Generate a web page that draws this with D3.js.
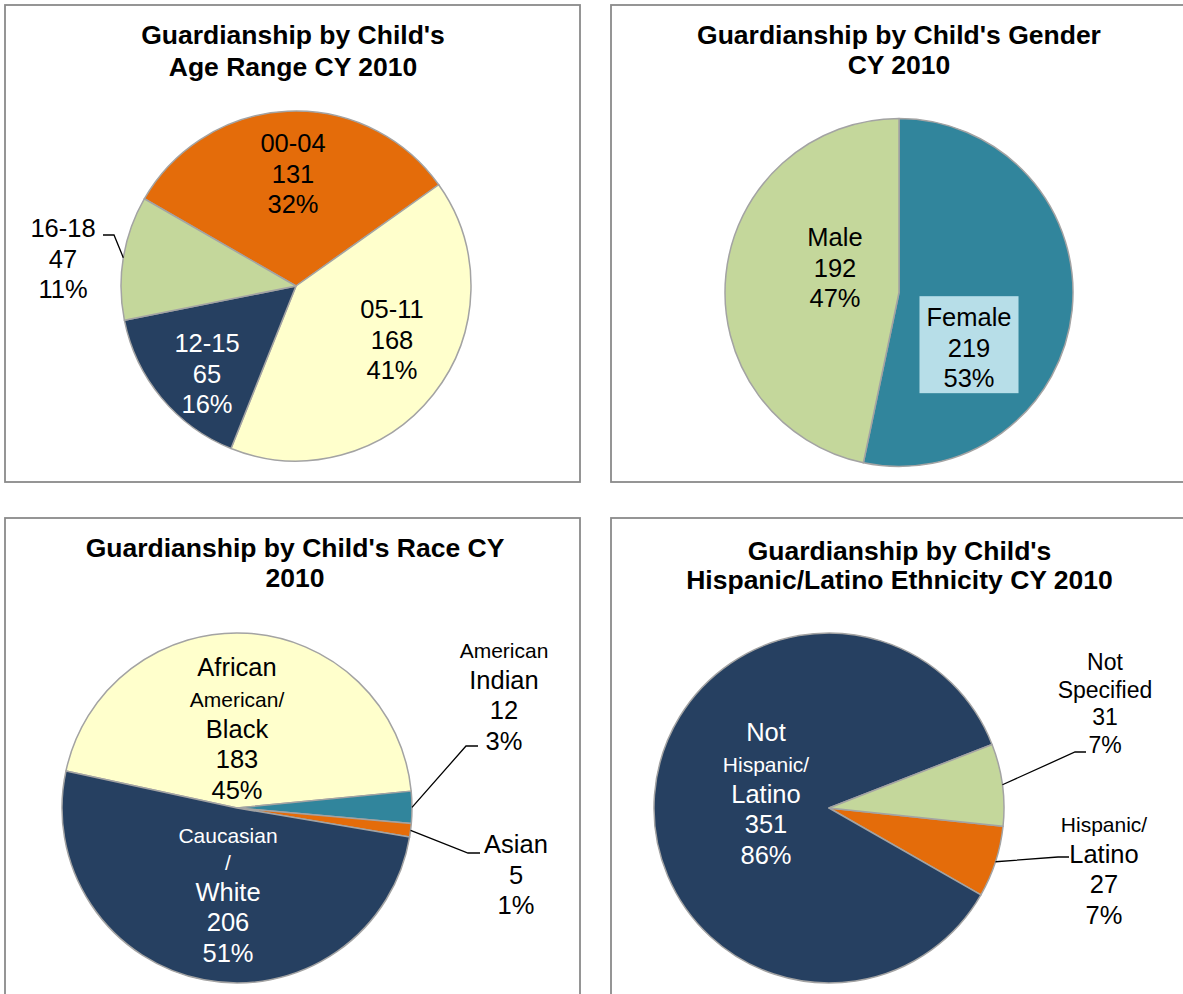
<!DOCTYPE html>
<html>
<head>
<meta charset="utf-8">
<script src="https://cdn.jsdelivr.net/npm/d3@7"></script>
<style>
  html, body { margin: 0; padding: 0; background: #ffffff; }
  svg { display: block; font-family: "Liberation Sans", Arial, Helvetica, sans-serif; }
</style>
</head>
<body>
<svg id="chart" width="1183" height="994"></svg>
<script>
// ---- Data: guardianship counts, CY 2010 ----
const ageCategories = ["00-04", "05-11", "12-15", "16-18"];
const ageCounts = [131, 168, 65, 47];
const agePercents = ["32%", "41%", "16%", "11%"];

const genderCategories = ["Female", "Male"];
const genderCounts = [219, 192];
const genderPercents = ["53%", "47%"];

const raceCategories = ["African American/Black", "American Indian", "Asian", "Caucasian/White"];
const raceCounts = [183, 12, 5, 206];
const racePercents = ["45%", "3%", "1%", "51%"];

const ethnicityCategories = ["Hispanic/Latino", "Not Hispanic/Latino", "Not Specified"];
const ethnicityCounts = [27, 351, 31];
const ethnicityPercents = ["7%", "86%", "7%"];

// ---- Styling ----
const COLOR = {
  orange: "#E46C0A",
  cream: "#FFFFCC",
  sage: "#C4D79B",
  navy: "#264061",
  teal: "#31859C",
  labelBox: "#B7DEE8",
  sliceEdge: "#A3A3A3",
  frame: "#8A8A8A"
};
const SIZE = { b: 25.5, s: 21, m: 23, title: 26.5 };
const deg = Math.PI / 180;

// line pitch between consecutive label rows, by font-size class
function pitch(prev, cur) {
  if (prev === "m" && cur === "m") return 27.5;
  if (prev === "b" && cur === "b") return 30.5;
  if (prev === "b" && cur === "s") return 32;
  if (prev === "s" && cur === "b") return 29.5;
  return 27;
}

// ---- Chart layout ----
const charts = [
  {
    panel: { x: 5, y: 5, w: 575, h: 477 },
    title: ["Guardianship by Child's", "Age Range CY 2010"],
    titleX: 293, titleY: [34, 66],
    center: [296, 286], radius: 175, start: -60.1,
    categories: ageCategories, counts: ageCounts, percents: agePercents,
    fills: [COLOR.orange, COLOR.cream, COLOR.navy, COLOR.sage],
    labels: [
      { x: 293, y: 143, name: [["00-04", "b"]], color: "#000" },
      { x: 392, y: 309, name: [["05-11", "b"]], color: "#000" },
      { x: 207, y: 343, name: [["12-15", "b"]], color: "#fff" },
      { x: 63, y: 228, name: [["16-18", "b"]], color: "#000",
        leader: [[114, 235], [103, 235]] }
    ]
  },
  {
    panel: { x: 611, y: 5, w: 576, h: 477 },
    title: ["Guardianship by Child's Gender", "CY 2010"],
    titleX: 899, titleY: [34, 64],
    center: [899, 292.5], radius: 174, start: 0,
    categories: genderCategories, counts: genderCounts, percents: genderPercents,
    fills: [COLOR.teal, COLOR.sage],
    labels: [
      { x: 969, y: 317, name: [["Female", "b"]], color: "#000", box: true },
      { x: 835, y: 237, name: [["Male", "b"]], color: "#000" }
    ]
  },
  {
    panel: { x: 5, y: 518, w: 575, h: 500 },
    title: ["Guardianship by Child's Race CY", "2010"],
    titleX: 295, titleY: [547, 577],
    center: [237, 808], radius: 175, start: -77.8,
    categories: raceCategories, counts: raceCounts, percents: racePercents,
    fills: [COLOR.cream, COLOR.teal, COLOR.orange, COLOR.navy],
    labels: [
      { x: 237, y: 667, name: [["African", "b"], ["American/", "s"], ["Black", "b"]], color: "#000" },
      { x: 504, y: 650, name: [["American", "s"], ["Indian", "b"]], color: "#000",
        leader: [[466, 746], [478, 746]] },
      { x: 516, y: 844, name: [["Asian", "b"]], color: "#000",
        leader: [[468, 853], [480, 853]] },
      { x: 228, y: 835, name: [["Caucasian", "s"], ["/", "s"], ["White", "b"]], color: "#fff" }
    ]
  },
  {
    panel: { x: 611, y: 518, w: 576, h: 500 },
    title: ["Guardianship by Child's", "Hispanic/Latino Ethnicity CY 2010"],
    titleX: 899.5, titleY: [550, 579],
    center: [829, 808], radius: 175, start: 96,
    categories: ethnicityCategories, counts: ethnicityCounts, percents: ethnicityPercents,
    fills: [COLOR.orange, COLOR.navy, COLOR.sage],
    labels: [
      { x: 1104, y: 824, name: [["Hispanic/", "s"], ["Latino", "b"]], color: "#000",
        leader: [[1058, 857], [1069, 857]] },
      { x: 766, y: 732, name: [["Not", "b"], ["Hispanic/", "s"], ["Latino", "b"]], color: "#fff" },
      { x: 1105, y: 662, name: [["Not", "m"], ["Specified", "m"]], numSize: "m", color: "#000",
        leader: [[1075, 752], [1086, 752]] }
    ]
  }
];

const svg = d3.select("#chart");

charts.forEach(cfg => {
  const g = svg.append("g");

  // frame
  g.append("rect")
    .attr("x", cfg.panel.x).attr("y", cfg.panel.y)
    .attr("width", cfg.panel.w).attr("height", cfg.panel.h)
    .attr("fill", "#fff")
    .attr("stroke", COLOR.frame).attr("stroke-width", 1.8);

  // slices
  const rows = cfg.categories.map((c, i) => ({ name: c, value: cfg.counts[i], idx: i }));
  const pie = d3.pie().sort(null).value(d => d.value)
    .startAngle(cfg.start * deg).endAngle(cfg.start * deg + 2 * Math.PI);
  const arcs = pie(rows);
  const arc = d3.arc().innerRadius(0).outerRadius(cfg.radius);

  const pg = g.append("g").attr("transform", `translate(${cfg.center[0]},${cfg.center[1]})`);
  pg.selectAll("path").data(arcs).join("path")
    .attr("d", arc)
    .attr("fill", d => cfg.fills[d.data.idx])
    .attr("stroke", COLOR.sliceEdge)
    .attr("stroke-width", 1.5)
    .attr("stroke-linejoin", "round");

  // labels
  cfg.labels.forEach((lab, i) => {
    const a = arcs[i];
    const numCls = lab.numSize || "b";
    const lines = lab.name.concat([[String(cfg.counts[i]), numCls], [cfg.percents[i], numCls]]);

    // leader line from slice edge (mid angle) to label
    if (lab.leader) {
      const mid = (a.startAngle + a.endAngle) / 2;
      const edge = [cfg.center[0] + cfg.radius * Math.sin(mid), cfg.center[1] - cfg.radius * Math.cos(mid)];
      const pts = [edge].concat(lab.leader);
      g.append("path")
        .attr("d", d3.line()(pts))
        .attr("fill", "none")
        .attr("stroke", "#000")
        .attr("stroke-width", 1.3);
    }

    const lg = g.append("g");
    const boxLayer = lg.append("g");
    const tg = lg.append("g");
    let cy = lab.y;
    lines.forEach((ln, k) => {
      if (k > 0) cy += pitch(lines[k - 1][1], ln[1]);
      const fs = SIZE[ln[1]];
      tg.append("text")
        .attr("x", lab.x)
        .attr("y", cy + fs * 0.36)
        .attr("text-anchor", "middle")
        .attr("font-size", fs)
        .attr("fill", lab.color)
        .text(ln[0]);
    });
    if (lab.box) {
      const bb = tg.node().getBBox();
      boxLayer.append("rect")
        .attr("x", bb.x - 7).attr("y", bb.y - 7)
        .attr("width", bb.width + 14).attr("height", bb.height + 8)
        .attr("fill", COLOR.labelBox);
    }
  });

  // title
  cfg.title.forEach((t, k) => {
    g.append("text")
      .attr("x", cfg.titleX)
      .attr("y", cfg.titleY[k] + SIZE.title * 0.36)
      .attr("text-anchor", "middle")
      .attr("font-size", SIZE.title)
      .attr("font-weight", "bold")
      .attr("fill", "#000")
      .text(t);
  });
});
</script>
</body>
</html>
